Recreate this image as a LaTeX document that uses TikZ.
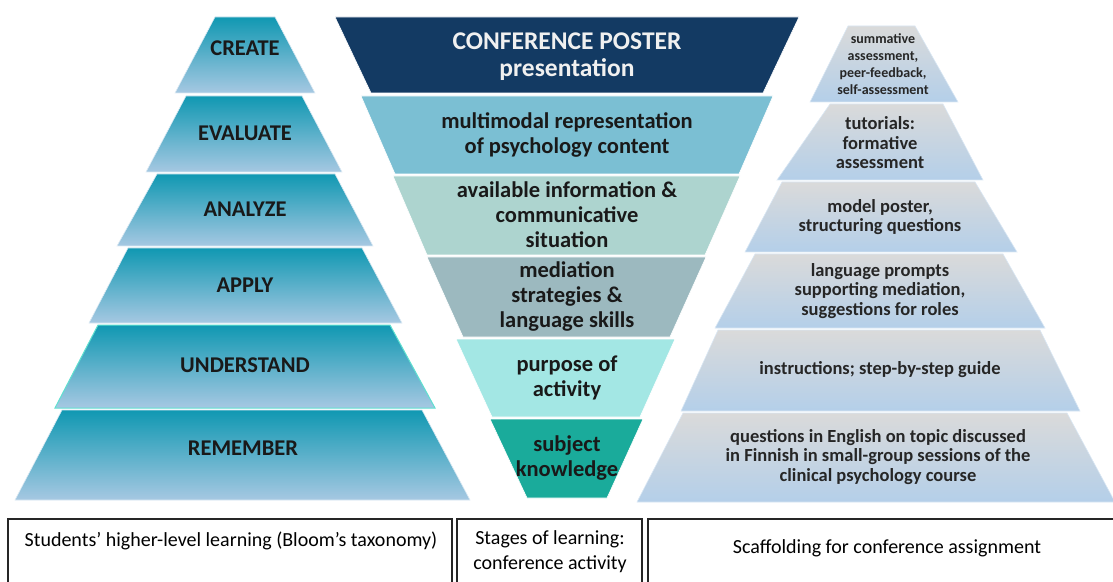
\documentclass[tikz,border=0pt]{standalone}
\usepackage{fontspec}
\setmainfont{Carlito}
\definecolor{ltop}{RGB}{16,152,178}
\definecolor{lbot}{RGB}{166,200,226}
\definecolor{rtop}{RGB}{218,218,218}
\definecolor{rbot}{RGB}{180,207,233}
\definecolor{navy}{RGB}{19,58,99}
\definecolor{mmc}{RGB}{123,191,211}
\definecolor{avc}{RGB}{173,212,207}
\definecolor{medc}{RGB}{156,185,191}
\definecolor{purc}{RGB}{163,231,228}
\definecolor{subc}{RGB}{26,171,155}
\definecolor{turq}{RGB}{95,224,208}
\definecolor{rtext}{RGB}{38,38,38}
\tikzset{
  lstep/.style={top color=ltop, bottom color=lbot, draw=white!60!lbot, line width=0.6bp},
  rstep/.style={top color=rtop, bottom color=rbot, draw=white!50!rbot, line width=0.6bp},
  mstep/.style={draw=white, line width=0.6bp},
  llab/.style={font=\fontsize{22.5bp}{26bp}\selectfont\bfseries, text=black!90, align=center, inner sep=0pt},
  mlab/.style={font=\fontsize{22.5bp}{25bp}\selectfont\bfseries, text=black!90, align=center, inner sep=0pt},
  rlab/.style={font=\fontsize{18.5bp}{19.2bp}\selectfont\bfseries, text=rtext, align=center, inner sep=0pt},
  blab/.style={font=\fontsize{20bp}{25bp}\selectfont, text=black, align=center, inner sep=0pt},
  bbox/.style={draw=black!85, line width=1.3bp}
}
\begin{document}
\begin{tikzpicture}[x=1bp,y=-1bp]
\useasboundingbox (0,0) rectangle (1113,582);
\clip (0,0) rectangle (1113,582);
% left pyramid
\shade[lstep] (215,17)--(275,17)--(315,93)--(175,93)--cycle;
\shade[lstep] (186,96)--(302,96)--(342,172)--(146,172)--cycle;
\shade[lstep] (157,174)--(335,174)--(373,246)--(117,246)--cycle;
\shade[lstep] (128,248)--(362,248)--(402,323)--(89,323)--cycle;
\shade[lstep, draw=turq, line width=1bp] (98,325)--(390,325)--(435,408)--(55,408)--cycle;
\shade[lstep] (62,410)--(422,410)--(470,500)--(15,500)--cycle;
\node[llab] (create) at (245,48) {CREATE};
\node[llab] (evaluate) at (245,133) {EVALUATE};
\node[llab] (analyze) at (245,209) {ANALYZE};
\node[llab] (apply) at (245,285) {APPLY};
\node[llab] (understand) at (245,365) {UNDERSTAND};
\node[llab] (remember) at (243,448) {REMEMBER};
% middle funnel
\fill[navy, mstep] (335,17)--(799,17)--(763,93)--(371,93)--cycle;
\fill[mmc, mstep] (361,96)--(773,96)--(739,174)--(395,174)--cycle;
\fill[avc, mstep] (393,176)--(740,176)--(705,255)--(427,255)--cycle;
\fill[medc, mstep] (427,257)--(706,257)--(670,337)--(463,337)--cycle;
\fill[purc, mstep] (456,339)--(675,339)--(640,417)--(492,417)--cycle;
\fill[subc, mstep] (490,419)--(643,419)--(607,498)--(527,498)--cycle;
\node[mlab, text=white!94!black, font=\fontsize{25.5bp}{27bp}\selectfont\bfseries] (poster) at (567,57) {CONFERENCE POSTER\\presentation};
\node[mlab] (multi) at (567,135) {multimodal representation\\of psychology content};
\node[mlab] (avail) at (567,215) {available information \&\\communicative\\situation};
\node[mlab] (media) at (567,296) {mediation\\strategies \&\\language skills};
\node[mlab] (purpose) at (567,378) {purpose of\\activity};
\node[mlab] (subject) at (567,458) {subject\\knowledge};
% right pyramid
\shade[rstep] (848,26)--(915,26)--(958,102)--(810,102)--cycle;
\shade[rstep] (830,104)--(943,104)--(983,180)--(777,180)--cycle;
\shade[rstep] (782,182)--(975,182)--(1017,252)--(745,252)--cycle;
\shade[rstep] (755,254)--(1003,254)--(1045,328)--(715,328)--cycle;
\shade[rstep] (718,330)--(1040,330)--(1080,411)--(681,411)--cycle;
\shade[rstep] (683,413)--(1067,413)--(1115,502)--(637,502)--cycle;
\node[rlab, font=\fontsize{14bp}{17bp}\selectfont\bfseries] (summ) at (883,64) {summative\\assessment,\\peer-feedback,\\self-assessment};
\node[rlab, font=\fontsize{18.5bp}{19.5bp}\selectfont\bfseries] (tut) at (880,143) {tutorials:\\formative\\assessment};
\node[rlab] (model) at (880,217) {model poster,\\structuring questions};
\node[rlab] (prompts) at (880,291) {language prompts\\supporting mediation,\\suggestions for roles};
\node[rlab] (instr) at (880,370) {instructions; step-by-step guide};
\node[rlab] (quest) at (878,457) {questions in English on topic discussed\\in Finnish in small-group sessions of the\\clinical psychology course};
% bottom boxes
\draw[bbox] (8,519) rectangle (452,590);
\draw[bbox] (457,519) rectangle (642,590);
\draw[bbox] (648,519) rectangle (1120,590);
\node[blab] (bloom) at (231,541) {Students’ higher-level learning (Bloom’s taxonomy)};
\node[blab] (stages) at (550,552) {Stages of learning:\\conference activity};
\node[blab] (scaff) at (887,548) {Scaffolding for conference assignment};
\end{tikzpicture}
\end{document}
